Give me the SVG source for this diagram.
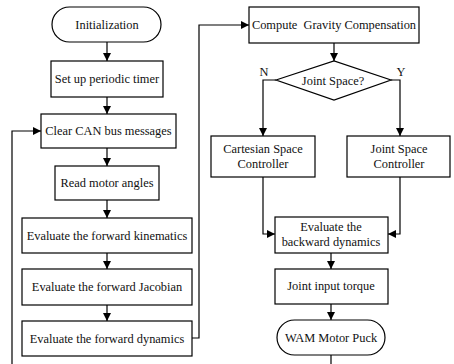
<svg xmlns="http://www.w3.org/2000/svg" width="454" height="364" viewBox="0 0 454 364" font-family="'Liberation Serif', 'Times New Roman', Times, serif">
<defs>
<marker id="ah" markerWidth="10" markerHeight="10" refX="9" refY="5" orient="auto" markerUnits="userSpaceOnUse">
<path d="M1,1 L9,5 L1,9 Z" fill="#000"/>
</marker>
<style>
.b{fill:#fff;stroke:#000;stroke-width:1.2}
.t{font-family:'Liberation Serif','Times New Roman',Times,serif;font-size:12.4px;fill:#111;text-anchor:middle}
.c{fill:none;stroke:#000;stroke-width:1.2}
.a{marker-end:url(#ah)}
</style>
</defs>
<rect width="454" height="364" fill="#fff"/>
<g id="connectors">
<line class="c a" x1="107" y1="42" x2="107" y2="61"/>
<line class="c a" x1="107" y1="97" x2="107" y2="114"/>
<line class="c a" x1="107" y1="148" x2="107" y2="166"/>
<line class="c a" x1="107" y1="200" x2="107" y2="218"/>
<line class="c a" x1="107" y1="253" x2="107" y2="269"/>
<line class="c a" x1="107" y1="305" x2="107" y2="321"/>
<polyline class="c a" points="12,364 12,131 41,131"/>
<polyline class="c a" points="192,338 199,338 199,25 249,25"/>
<line class="c a" x1="334" y1="43" x2="334" y2="61"/>
<polyline class="c a" points="276,80 263,80 263,136"/>
<polyline class="c a" points="391,80 400,80 400,136"/>
<polyline class="c a" points="263,177 263,234 275,234"/>
<polyline class="c a" points="400,177 400,234 388,234"/>
<line class="c a" x1="331" y1="253" x2="331" y2="269"/>
<line class="c a" x1="331" y1="304" x2="331" y2="320"/>
<line class="c" x1="331" y1="355" x2="331" y2="364"/>
<text class="t" x="264" y="76">N</text>
<text class="t" x="401" y="76">Y</text>
</g>
<g id="init"><rect class="b" x="52" y="7" width="109" height="35" rx="17.5"/><text class="t" x="107" y="29">Initialization</text></g>
<g id="timer"><rect class="b" x="51" y="61" width="112" height="36"/><text class="t" x="107" y="83">Set up periodic timer</text></g>
<g id="clear"><rect class="b" x="41" y="114" width="135" height="34"/><text class="t" x="108.5" y="135">Clear CAN bus messages</text></g>
<g id="read"><rect class="b" x="55" y="166" width="104" height="34"/><text class="t" x="107" y="187">Read motor angles</text></g>
<g id="fk"><rect class="b" x="22" y="218" width="170" height="35"/><text class="t" x="107" y="240">Evaluate the forward kinematics</text></g>
<g id="fj"><rect class="b" x="22" y="269" width="170" height="36"/><text class="t" x="107" y="291">Evaluate the forward Jacobian</text></g>
<g id="fd"><rect class="b" x="22" y="321" width="170" height="35"/><text class="t" x="107" y="343">Evaluate the forward dynamics</text></g>
<g id="grav"><rect class="b" x="249" y="7" width="170" height="36"/><text class="t" x="334" y="29" xml:space="preserve">Compute  Gravity Compensation</text></g>
<g id="decision"><polygon class="b" points="276,80 334,61 391,80 334,100"/><text class="t" x="333" y="85">Joint Space?</text></g>
<g id="cart"><rect class="b" x="211" y="136" width="104" height="41"/><text class="t" x="263" y="153">Cartesian Space</text><text class="t" x="263" y="168">Controller</text></g>
<g id="joint"><rect class="b" x="347" y="136" width="103" height="41"/><text class="t" x="399" y="153">Joint Space</text><text class="t" x="399" y="168">Controller</text></g>
<g id="bd"><rect class="b" x="275" y="217" width="113" height="36"/><text class="t" x="331" y="231">Evaluate the</text><text class="t" x="331" y="246">backward dynamics</text></g>
<g id="torque"><rect class="b" x="275" y="269" width="113" height="35"/><text class="t" x="331" y="290">Joint input torque</text></g>
<g id="puck"><rect class="b" x="277" y="320" width="108" height="35" rx="17.5"/><text class="t" x="331" y="342">WAM Motor Puck</text></g>
</svg>
